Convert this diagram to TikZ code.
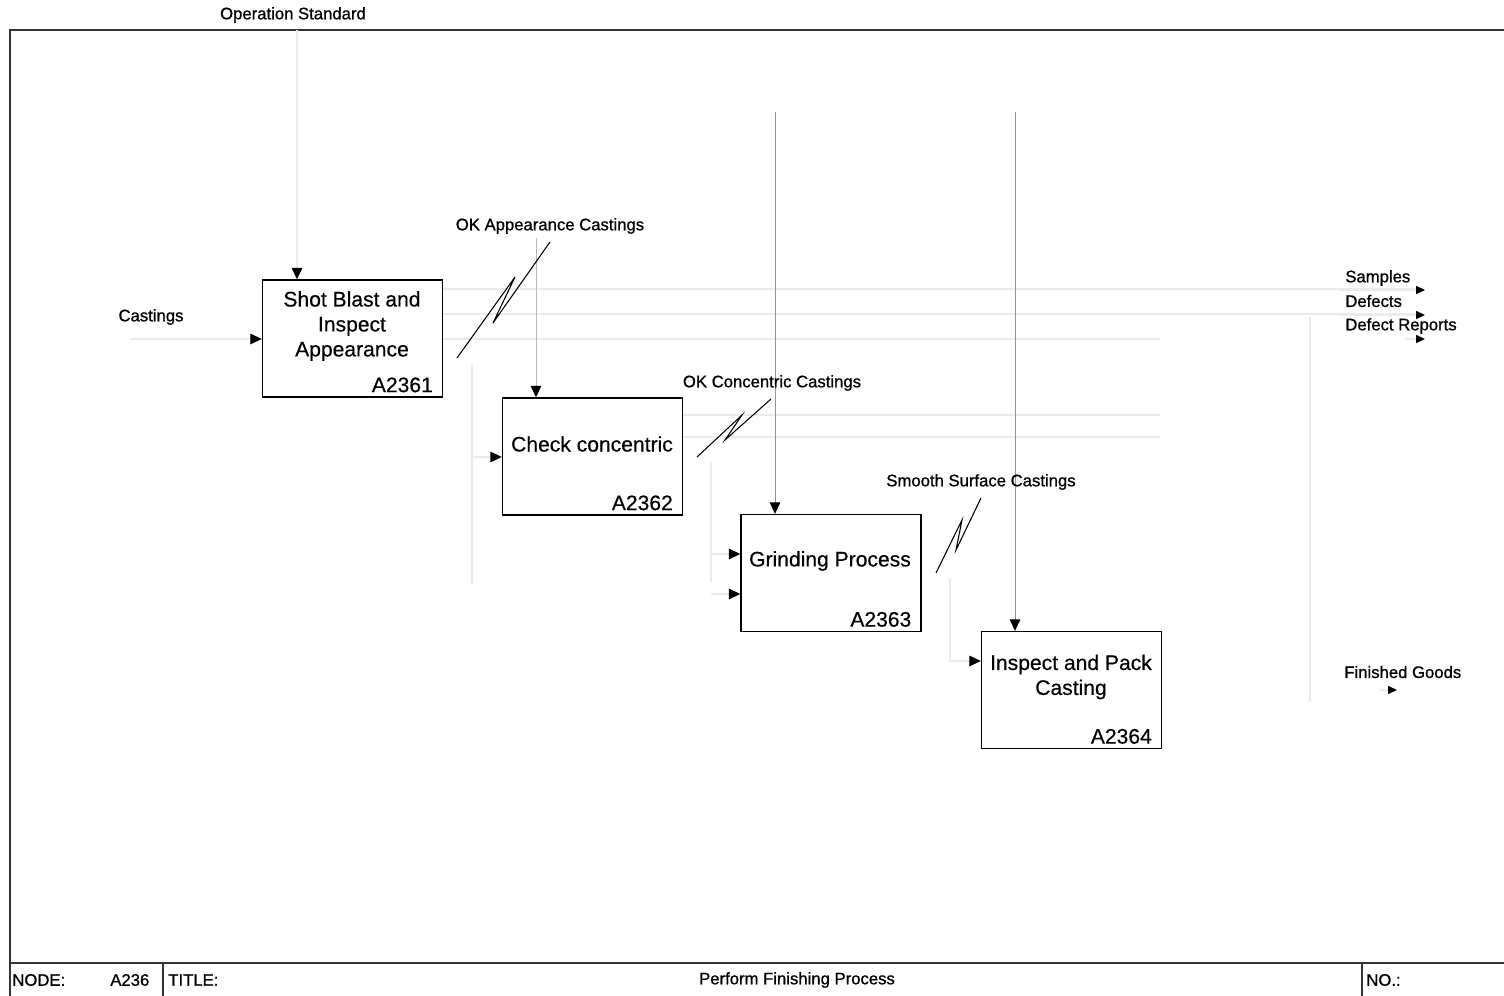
\documentclass[tikz,border=0pt]{standalone}
\usepackage{fontspec}
\setmainfont{Liberation Sans}
\newfontfamily\lblfont{Liberation Sans}[FakeBold=0.9]
\newfontfamily\boxfont{Liberation Sans}[FakeBold=0.4]
\usetikzlibrary{arrows.meta,calc}

\begin{document}
\begin{tikzpicture}[x=0.02cm,y=-0.02cm,
  box/.style={draw=black,line width=0.8pt,minimum width=3.6cm,minimum height=2.34cm,inner sep=0pt},
  boxtext/.style={font=\boxfont\fontsize{12}{14.2}\selectfont,align=center,inner sep=0pt},
  boxid/.style={font=\boxfont\fontsize{12}{14}\selectfont,anchor=south east,inner sep=0pt},
  lbl/.style={font=\lblfont\fontsize{9.5}{11}\selectfont,inner sep=0pt},
  faint/.style={draw=black!8,line width=0.6pt},
  mid/.style={draw=black!42,line width=0.5pt},
  light/.style={draw=black!28,line width=0.5pt},
  tip/.style={-{Triangle[length=6.5pt,width=6pt,color=black]}},
  smalltip/.style={-{Triangle[length=5pt,width=4.5pt,color=black]}},
  squig/.style={draw=black,line width=0.6pt,line join=miter},
  frame/.style={draw=black!80,line width=0.9pt}]

\useasboundingbox (0,0) rectangle (1504,996);

% sheet frame and title bar
\draw[frame] (10,996) -- (10,30) -- (1504,30);
\draw[frame] (10,963) -- (1504,963);
\draw[frame] (163,963) -- (163,996);
\draw[frame] (1362,963) -- (1362,996);

% activity boxes
\node[box] (b1) at (352.5,338.5) {};
\node[box] (b2) at (592.5,456.5) {};
\node[box] (b3) at (831,573) {};
\node[box] (b4) at (1071.5,690) {};

\node[boxtext] (t1) at (352,326) {Shot Blast and\\Inspect\\Appearance};
\node[boxtext] (t2) at (592,444) {Check concentric};
\node[boxtext] (t3) at (830,561) {Grinding Process};
\node[boxtext] (t4) at (1071,677) {Inspect and Pack\\Casting};

\node[boxid] (i1) at ($(b1.south east)+(-10,-5)$) {A2361};
\node[boxid] (i2) at ($(b2.south east)+(-10,-5)$) {A2362};
\node[boxid] (i3) at ($(b3.south east)+(-10,-5)$) {A2363};
\node[boxid] (i4) at ($(b4.south east)+(-10,-5)$) {A2364};

% faded routing lines
\coordinate (os) at (297,30);
\coordinate (cin) at (130,339);
\draw[faint,tip] (os) -- (os |- b1.north);
\draw[faint,tip] (cin) -- (cin -| b1.west);

\draw[faint] (b1.east |- 0,289) -- (1420,289);
\draw[faint] (b1.east |- 0,314) -- (1420,314);
\draw[faint] (b1.east |- 0,339) -- (1160,339);
\draw[faint] (b2.east |- 0,415) -- (1160,415);
\draw[faint] (b2.east |- 0,437) -- (1160,437);

\coordinate (d1) at (472,365);
\coordinate (d2) at (711,462);
\coordinate (d3) at (950,578);
\draw[faint] (d1) -- (472,585);
\draw[faint,tip] (472,457) -- (b2.west |- 0,457);
\draw[faint] (d2) -- (711,582);
\draw[faint,tip] (711,554) -- (b3.west |- 0,554);
\draw[faint,tip] (711,594) -- (b3.west |- 0,594);
\draw[faint] (d3) -- (950,661);
\draw[faint,tip] (950,661) -- (b4.west |- 0,661);

\coordinate (rv) at (1310,317);
\draw[faint] (rv) -- (1310,702);

% control arrows
\coordinate (c2) at (536,238);
\coordinate (c3) at (775,112);
\coordinate (c4) at (1015,112);
\draw[light,tip] (c2) -- (c2 |- b2.north);
\draw[mid,tip] (c3) -- (c3 |- b3.north);
\draw[mid,tip] (c4) -- (c4 |- b4.north);

% boundary outputs
\coordinate (oS) at (1425,290);
\coordinate (oD) at (1425,315);
\coordinate (oR) at (1425,339);
\coordinate (oF) at (1397,690);
\draw[faint,smalltip] (1340,290) -- (oS);
\draw[faint,smalltip] (1340,315) -- (oD);
\draw[faint,smalltip] (1405,339) -- (oR);
\draw[faint,smalltip] (1380,690) -- (oF);

% label squiggles
\coordinate (s1a) at (457,358);
\coordinate (s1b) at (550,242);
\coordinate (s2a) at (697,457);
\coordinate (s2b) at (771,399);
\coordinate (s3a) at (936,573);
\coordinate (s3b) at (981,498);
\draw[squig] (s1a) -- (515,277) -- (493,323) -- (s1b);
\draw[squig] (s2a) -- (742,415) -- (725,440) -- (s2b);
\draw[squig] (s3a) -- (962,520) -- (956,550) -- (s3b);

% arrow labels
\node[lbl] (lOS) at (293,15) {Operation Standard};
\node[lbl] (lC) at (151,317) {Castings};
\node[lbl] (lOKA) at (550,226) {OK Appearance Castings};
\node[lbl] (lOKC) at (772,383) {OK Concentric Castings};
\node[lbl] (lSS) at (981,482) {Smooth Surface Castings};
\node[lbl,anchor=west] (lS) at (1345,278) {Samples};
\node[lbl,anchor=west] (lD) at (1345,301) {Defects};
\node[lbl,anchor=west] (lDR) at (1345,326) {Defect Reports};
\node[lbl,anchor=west] (lFG) at (1344,672) {Finished Goods};

% title bar entries
\node[lbl,anchor=west] (nd) at (12,980) {NODE:};
\node[lbl,anchor=west] (nn) at (110,980) {A236};
\node[lbl,anchor=west] (tt) at (168,980) {TITLE:};
\node[lbl] (tn) at (797,980) {Perform Finishing Process};
\node[lbl,anchor=west] (no) at (1366,980) {NO.:};
\end{tikzpicture}
\end{document}
